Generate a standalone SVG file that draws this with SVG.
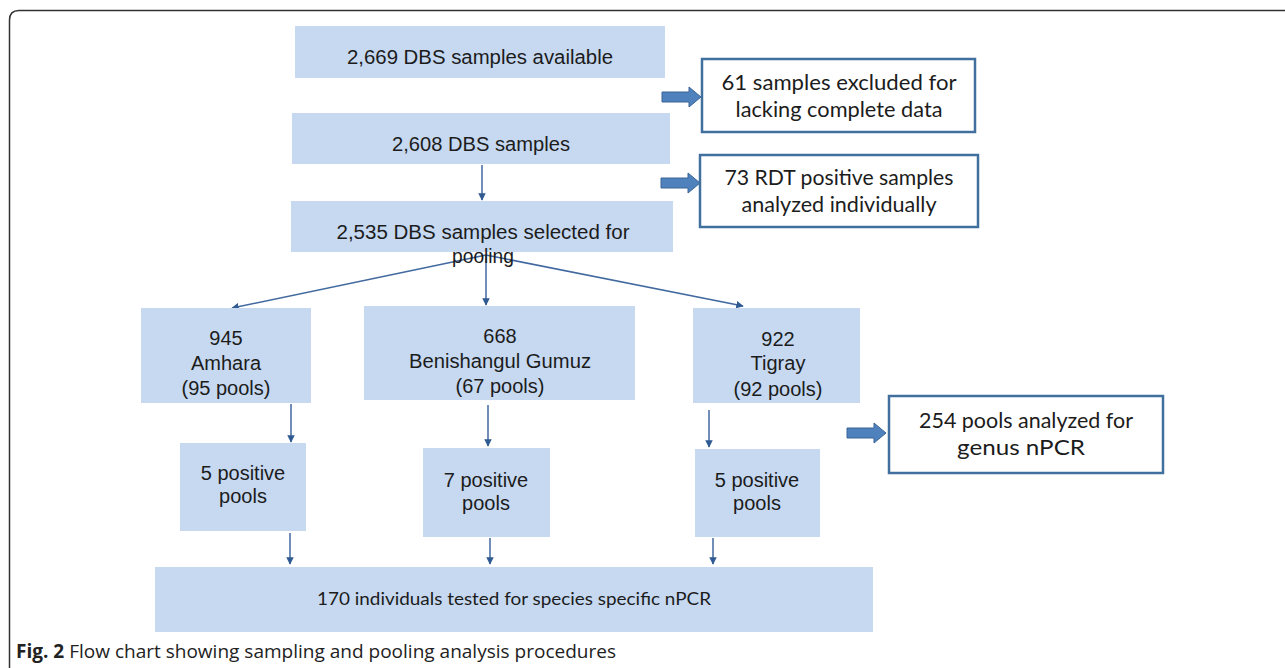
<svg xmlns="http://www.w3.org/2000/svg" width="1285" height="668" viewBox="0 0 1285 668">
<style>
.bx{fill:#c6d9f1}
.wb{fill:#ffffff;stroke:#41709f;stroke-width:2.5}
.ta{font-family:"Liberation Sans",Arial,sans-serif;font-size:20px;fill:#1c1c1c;text-anchor:middle}
.tc{font-family:Lato,"Open Sans",sans-serif;font-size:22px;fill:#1c1c1c;text-anchor:middle}
.tb{font-family:Lato,"Open Sans",sans-serif;font-size:18px;fill:#1c1c1c;text-anchor:middle}
.ln{stroke:#41699f;stroke-width:1.5;fill:none;marker-end:url(#ah)}
.blk{fill:#4f81bd;stroke:#3a6598;stroke-width:1}
.cap{font-family:"Open Sans","Liberation Sans",sans-serif;font-size:19px;fill:#222}
</style>
<defs>
<marker id="ah" viewBox="0 0 10 10" refX="9" refY="5" markerWidth="5" markerHeight="5" orient="auto" markerUnits="strokeWidth">
<path d="M0,0 L10,5 L0,10 Z" fill="#2f5a92"/>
</marker>
<path id="blk" d="M0,-5 H27 V-10 L39,0 L27,10 V5 H0 Z"/>
</defs>
<rect width="1285" height="668" fill="#ffffff"/>
<path d="M9.5,668 V20 Q9.5,10.5 19,10.5 H1285" fill="none" stroke="#333" stroke-width="1.5"/>

<g id="connectors">
<line class="ln" x1="482" y1="165" x2="482" y2="200"/>
<line class="ln" x1="486" y1="255" x2="232" y2="308"/>
<line class="ln" x1="486" y1="255" x2="486" y2="305"/>
<line class="ln" x1="486" y1="255" x2="743" y2="306"/>
<line class="ln" x1="291" y1="404" x2="291" y2="442"/>
<line class="ln" x1="488" y1="405" x2="488" y2="446"/>
<line class="ln" x1="709" y1="410" x2="709" y2="447"/>
<line class="ln" x1="290" y1="533" x2="290" y2="564"/>
<line class="ln" x1="490" y1="538" x2="490" y2="564"/>
<line class="ln" x1="713" y1="538" x2="713" y2="564"/>
<use href="#blk" class="blk" transform="translate(662,97)"/>
<use href="#blk" class="blk" transform="translate(661,183)"/>
<use href="#blk" class="blk" transform="translate(847,433)"/>
</g>

<g id="n-available">
<rect class="bx" x="295" y="26" width="370" height="52"/>
<text class="ta" x="480" y="64" font-size="22" textLength="266" lengthAdjust="spacingAndGlyphs">2,669 DBS samples  available</text>
</g>
<g id="n-2608">
<rect class="bx" x="292" y="113" width="378" height="51"/>
<text class="ta" x="481" y="151" font-size="22" textLength="178" lengthAdjust="spacingAndGlyphs">2,608 DBS samples</text>
</g>
<g id="n-2535">
<rect class="bx" x="291" y="201" width="382" height="51"/>
<text class="ta" x="483" y="239" font-size="22" textLength="293" lengthAdjust="spacingAndGlyphs">2,535 DBS samples  selected for</text>
<text class="ta" x="483" y="263" font-size="22" textLength="62" lengthAdjust="spacingAndGlyphs">pooling</text>
</g>
<g id="n-excluded">
<rect class="wb" x="702" y="59" width="273" height="73"/>
<text class="tc" x="839" y="90" textLength="235" lengthAdjust="spacingAndGlyphs">61 samples excluded  for</text>
<text class="tc" x="839" y="117" textLength="207" lengthAdjust="spacingAndGlyphs">lacking complete data</text>
</g>
<g id="n-rdt">
<rect class="wb" x="700" y="155" width="278" height="72"/>
<text class="tc" x="839" y="185" textLength="229" lengthAdjust="spacingAndGlyphs">73 RDT positive samples</text>
<text class="tc" x="839" y="212" textLength="195" lengthAdjust="spacingAndGlyphs">analyzed individually</text>
</g>
<g id="n-amhara">
<rect class="bx" x="141" y="308" width="170" height="95"/>
<text class="ta" x="226" y="345">945</text>
<text class="ta" x="226" y="370">Amhara</text>
<text class="ta" x="226" y="395">(95 pools)</text>
</g>
<g id="n-benishangul">
<rect class="bx" x="364" y="306" width="271" height="94"/>
<text class="ta" x="500" y="343">668</text>
<text class="ta" x="500" y="368" textLength="182" lengthAdjust="spacingAndGlyphs">Benishangul  Gumuz</text>
<text class="ta" x="500" y="393">(67 pools)</text>
</g>
<g id="n-tigray">
<rect class="bx" x="693" y="308" width="167" height="95"/>
<text class="ta" x="778" y="346">922</text>
<text class="ta" x="778" y="370">Tigray</text>
<text class="ta" x="778" y="396">(92 pools)</text>
</g>
<g id="n-genus">
<rect class="wb" x="889" y="396" width="274" height="77"/>
<text class="tc" x="1026" y="428" textLength="214" lengthAdjust="spacingAndGlyphs">254 pools analyzed for</text>
<text class="tc" x="1021" y="455" textLength="128" lengthAdjust="spacingAndGlyphs">genus nPCR</text>
</g>
<g id="n-pos-amhara">
<rect class="bx" x="180" y="443" width="126" height="88"/>
<text class="ta" x="243" y="480">5 positive</text>
<text class="ta" x="243" y="503">pools</text>
</g>
<g id="n-pos-benishangul">
<rect class="bx" x="423" y="448" width="127" height="89"/>
<text class="ta" x="486" y="487">7 positive</text>
<text class="ta" x="486" y="510">pools</text>
</g>
<g id="n-pos-tigray">
<rect class="bx" x="695" y="449" width="125" height="88"/>
<text class="ta" x="757" y="487">5 positive</text>
<text class="ta" x="757" y="510">pools</text>
</g>
<g id="n-individuals">
<rect class="bx" x="155" y="567" width="718" height="65"/>
<text class="tb" x="514" y="605" textLength="394" lengthAdjust="spacingAndGlyphs">170 individuals tested for species specific nPCR</text>
</g>
<g id="caption">
<text class="cap" x="16" y="658" textLength="600" lengthAdjust="spacingAndGlyphs"><tspan font-weight="bold">Fig. 2</tspan>  Flow chart showing sampling and pooling analysis procedures</text>
</g>
</svg>
